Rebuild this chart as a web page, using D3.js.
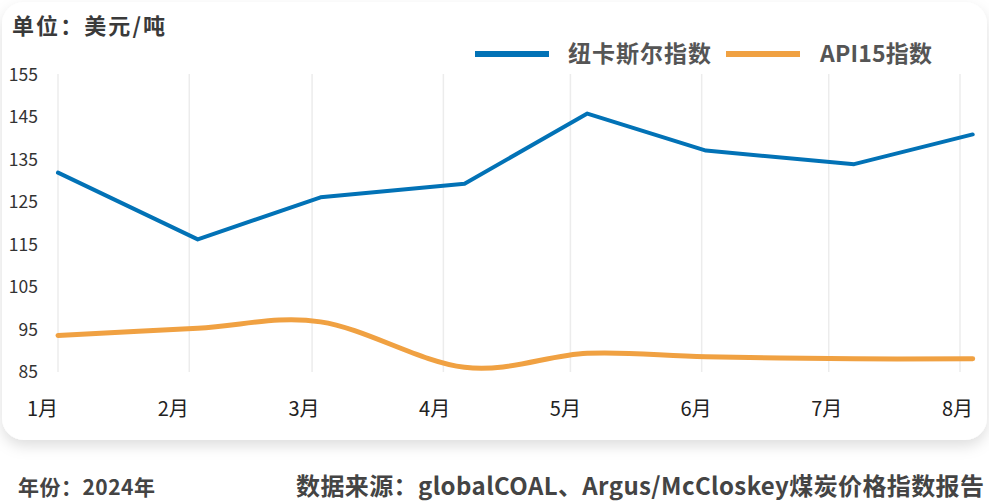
<!DOCTYPE html>
<html>
<head>
<meta charset="utf-8">
<script src="https://cdn.jsdelivr.net/npm/d3@7"></script>
<style>
html,body{margin:0;padding:0;background:#fff;}
svg{display:block;font-family:"Noto Sans CJK SC","Noto Sans",sans-serif;}
</style>
</head>
<body>
<svg id="chart" width="989" height="501"></svg>
<script>
// ---- data ----
const months = ["1月","2月","3月","4月","5月","6月","7月","8月"];
const dates = ["2024-01-01","2024-02-03","2024-03-03","2024-04-06","2024-05-05","2024-06-02","2024-07-07","2024-08-04"];
const newcastle = [131.9, 116.2, 126.1, 129.3, 145.8, 137.1, 133.9, 140.9];
const api15 = [93.6, 95.3, 96.8, 86.1, 89.4, 88.6, 88.1, 88.1];
const yTicks = [85, 95, 105, 115, 125, 135, 145, 155];
const seriesNames = ["纽卡斯尔指数", "API15指数"];
const colors = ["#0272b6", "#f0a142"];

const svg = d3.select("#chart");
const defs = svg.append("defs");
const f = defs.append("filter").attr("id","sh").attr("x","-5%").attr("y","-5%").attr("width","110%").attr("height","120%");
f.append("feDropShadow").attr("dx",0).attr("dy",6).attr("stdDeviation",7).attr("flood-color","#000").attr("flood-opacity",0.13);

svg.append("rect").attr("x",2).attr("y",2).attr("width",985).attr("height",438)
  .attr("rx",22).attr("fill","#fff").attr("filter","url(#sh)");

const parse = d3.timeParse("%Y-%m-%d");
const monthStarts = months.map((m,i)=>new Date(2024,i,1));
const x = d3.scaleTime().domain([new Date(2024,0,1), new Date(2024,7,1)]).range([58, 960]);
const y = d3.scaleLinear().domain([85,155]).range([372, 74.5]);
const xl = d3.scalePoint().domain(months).range([42, 957]);

// gridlines
svg.append("g").selectAll("line").data(monthStarts).join("line")
  .attr("x1",d=>x(d)).attr("x2",d=>x(d)).attr("y1",74).attr("y2",372)
  .attr("stroke","#ececec").attr("stroke-width",1.5);

// y axis labels
const yAxis = d3.axisLeft(y).tickValues(yTicks).tickSize(0).tickPadding(0);
const gy = svg.append("g").attr("transform","translate(38,0)").call(yAxis);
gy.select(".domain").remove();
gy.selectAll("text").attr("font-size",17.5).attr("fill","#333")
  .attr("font-family","'Noto Sans CJK SC',sans-serif");

// x axis labels
const xAxis = d3.axisBottom(xl).tickSize(0).tickPadding(0);
const gx = svg.append("g").attr("transform","translate(0,402)").call(xAxis);
gx.select(".domain").remove();
gx.selectAll("text").attr("font-size",20).attr("fill","#222")
  .attr("font-family","'Noto Sans CJK SC',sans-serif");

// lines
const pts1 = dates.map((d,i)=>({x:parse(d), v:newcastle[i]}));
const pts2 = dates.map((d,i)=>({x:parse(d), v:api15[i]}));
svg.append("path").datum(pts2)
  .attr("d", d3.line().x(d=>x(d.x)).y(d=>y(d.v)).curve(d3.curveCardinal.tension(0)))
  .attr("fill","none").attr("stroke",colors[1]).attr("stroke-width",5).attr("stroke-linecap","round");
svg.append("path").datum(pts1)
  .attr("d", d3.line().x(d=>x(d.x)).y(d=>y(d.v)))
  .attr("fill","none").attr("stroke",colors[0]).attr("stroke-width",4).attr("stroke-linejoin","round").attr("stroke-linecap","round");

// title
svg.append("text").attr("x",12).attr("y",34).text("单位：美元/吨")
  .attr("font-size",22).attr("font-weight","bold").attr("fill","#3a3a3a")
  .attr("textLength",153).attr("lengthAdjust","spacing");

// legend
const leg = [{x0:475,tx:568,w:143},{x0:726,tx:820,w:112}];
leg.forEach((l,i)=>{
  svg.append("line").attr("x1",l.x0).attr("x2",l.x0+74).attr("y1",54).attr("y2",54)
    .attr("stroke",colors[i]).attr("stroke-width",6);
  svg.append("text").attr("x",l.tx).attr("y",62).text(seriesNames[i])
    .attr("font-size",23).attr("font-weight","bold").attr("fill","#555")
    .attr("textLength",l.w).attr("lengthAdjust","spacing");
});

// footer
svg.append("text").attr("x",18).attr("y",495).text("年份：2024年")
  .attr("font-size",21).attr("font-weight","bold").attr("fill","#444")
  .attr("textLength",137).attr("lengthAdjust","spacing");
svg.append("text").attr("x",296).attr("y",495)
  .text("数据来源：globalCOAL、Argus/McCloskey煤炭价格指数报告")
  .attr("font-size",24).attr("font-weight","bold").attr("fill","#444")
  .attr("textLength",688).attr("lengthAdjust","spacing");
</script>
</body>
</html>
